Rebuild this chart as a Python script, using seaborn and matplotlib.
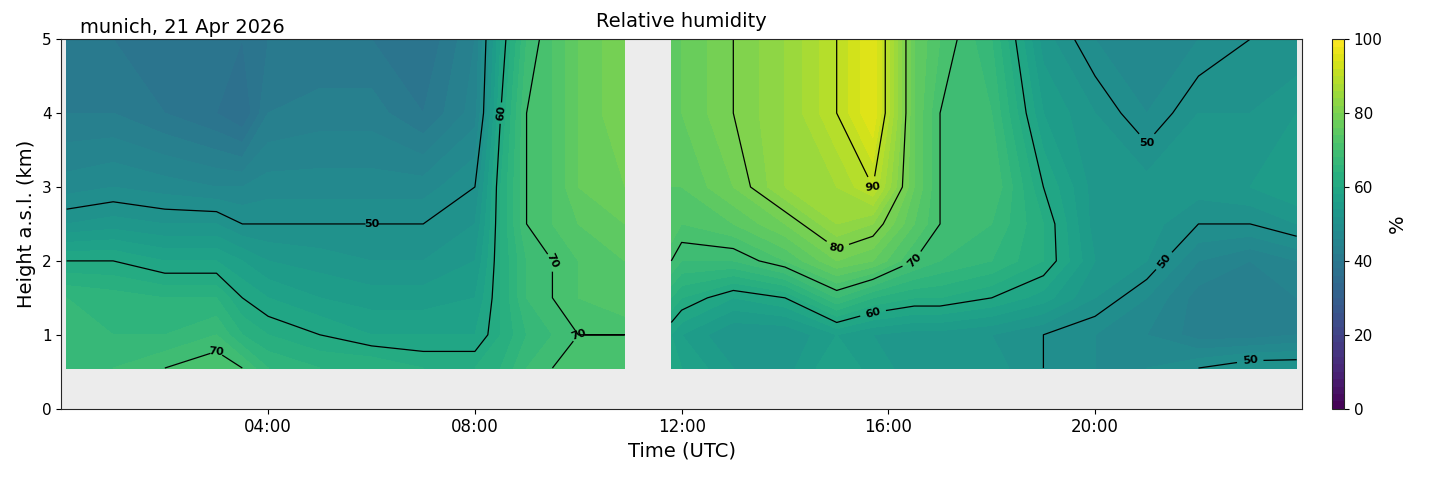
import numpy as np
import seaborn as sns
import matplotlib.pyplot as plt

# time (hours UTC) of the profile columns, the gap around 11-12 UTC has no data
times_am = [0.1, 1, 2, 3, 3.5, 4, 5, 6, 7, 8, 8.5, 9, 9.5, 10, 10.9]
times_pm = [11.8, 12, 13, 14, 15, 15.7, 16.5, 17, 18, 19, 20, 21, 22, 23, 23.9]
heights = [0.55, 1.0, 1.5, 2.0, 2.5, 3.0, 4.0, 5.0]

# relative humidity (%) per column, low to high
rh_am = [
    [66, 68, 66, 60, 52, 47, 42, 40],
    [68, 66, 65, 60, 53, 48, 42, 40],
    [70, 66, 64, 58, 52, 47, 40, 40],
    [72, 68, 64, 58, 52, 46, 38, 40],
    [70, 64, 60, 56, 50, 46, 36, 38],
    [66, 62, 58, 54, 50, 47, 42, 40],
    [64, 60, 56, 53, 50, 47, 43, 40],
    [64, 58, 55, 52, 50, 47, 43, 40],
    [62, 58, 55, 52, 50, 47, 40, 38],
    [62, 58, 56, 54, 52, 50, 45, 44],
    [64, 62, 62, 62, 62, 62, 60, 58],
    [68, 66, 68, 68, 70, 70, 70, 68],
    [70, 68, 70, 70, 72, 72, 72, 72],
    [72, 70, 72, 72, 74, 76, 76, 76],
    [72, 70, 74, 74, 76, 78, 80, 80],
]
rh_pm = [
    [60, 58, 64, 70, 74, 74, 76, 76],
    [58, 56, 62, 68, 72, 74, 76, 76],
    [54, 52, 58, 68, 74, 78, 80, 80],
    [53, 52, 60, 72, 78, 84, 84, 84],
    [58, 56, 68, 78, 84, 86, 90, 90],
    [55, 54, 64, 76, 82, 90, 96, 96],
    [53, 53, 62, 70, 74, 76, 76, 76],
    [53, 53, 62, 68, 70, 70, 70, 72],
    [53, 52, 60, 66, 68, 70, 68, 66],
    [50, 50, 57, 62, 62, 60, 56, 53],
    [48, 48, 52, 54, 53, 53, 52, 48],
    [48, 46, 48, 52, 53, 53, 48, 47],
    [50, 43, 43, 46, 50, 53, 52, 48],
    [52, 43, 43, 44, 50, 54, 52, 50],
    [52, 44, 44, 46, 52, 56, 54, 50],
]

sns.set_style("ticks")
plt.rcParams['font.family'] = ['DejaVu Sans']
plt.rcParams['text.color'] = 'black'
plt.rcParams['axes.labelcolor'] = 'black'
plt.rcParams['xtick.color'] = 'black'
plt.rcParams['ytick.color'] = 'black'

cmap = sns.color_palette("viridis", as_cmap=True)
levels = np.linspace(0, 100, 51)

fig, ax = plt.subplots(figsize=(14.29, 4.78), dpi=100)
ax.set_facecolor('#ececec')

for t, rh in [(times_am, rh_am), (times_pm, rh_pm)]:
    z = np.array(rh).T
    cf = ax.contourf(t, heights, z, levels=levels, cmap=cmap, vmin=0, vmax=100)
    cs = ax.contour(t, heights, z, levels=[50, 60, 70, 80, 90], colors='black', linewidths=0.9)
    ax.clabel(cs, fmt='%d', fontsize=8, inline=True)
    for lbl in cs.labelTexts:
        lbl.set_fontweight('bold')

ax.set_xlim(0, 24)
ax.set_ylim(0, 5)
ax.set_xticks([4, 8, 12, 16, 20])
ax.set_xticklabels(['04:00', '08:00', '12:00', '16:00', '20:00'], fontsize=12)
ax.tick_params(axis='y', labelsize=11)
ax.set_xlabel('Time (UTC)', fontsize=14)
ax.set_ylabel('Height a.s.l. (km)', fontsize=14)
ax.set_title('Relative humidity', fontsize=14, pad=9)
ax.text(0.015, 1.005, 'munich, 21 Apr 2026', transform=ax.transAxes, fontsize=14, va='bottom')

cb = fig.colorbar(cf, ax=ax, pad=0.023, fraction=0.02, aspect=30)
cb.set_ticks([0, 20, 40, 60, 80, 100])
cb.set_label('%', fontsize=14)
cb.ax.tick_params(labelsize=11)

fig.subplots_adjust(left=0.043, right=0.95, top=0.918, bottom=0.145)
fig.savefig('out.png', dpi=100)
